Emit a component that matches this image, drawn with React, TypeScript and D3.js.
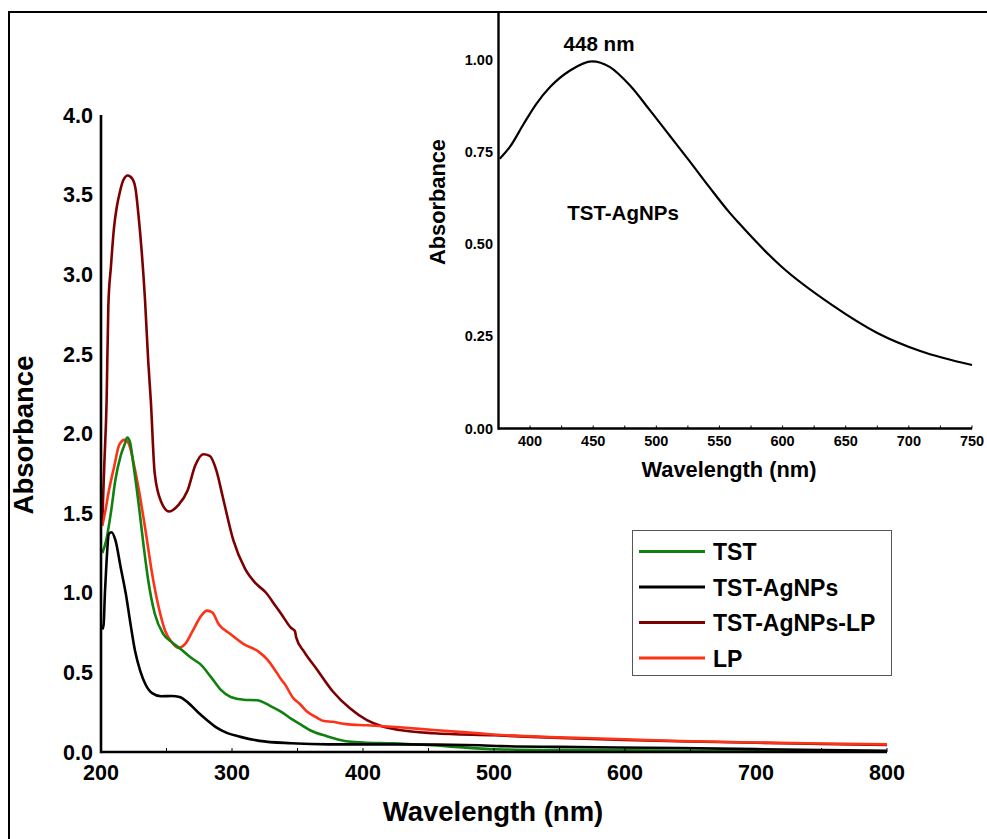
import React from 'react';
import * as d3 from 'd3';

// main chart: UV-vis spectra, wavelength (nm) vs absorbance
const tstNm = [201, 204, 207.5, 211, 215, 218, 220, 222, 225, 229, 232.6, 236, 241, 247.6, 254, 261, 269, 276, 284, 291.5, 299, 309, 319, 329, 337, 345, 352, 360, 372, 387, 400, 423, 449, 487, 502, 550, 600, 700, 800];
const tstAbs = [1.25, 1.33, 1.5, 1.71, 1.86, 1.93, 1.975, 1.95, 1.79, 1.54, 1.29, 1.08, 0.87, 0.74, 0.69, 0.645, 0.59, 0.55, 0.47, 0.39, 0.345, 0.328, 0.325, 0.29, 0.255, 0.21, 0.175, 0.135, 0.1, 0.068, 0.06, 0.055, 0.044, 0.023, 0.017, 0.012, 0.01, 0.007, 0.005];

const agNm = [201, 202, 203, 204, 206, 208, 211, 215, 219, 222.6, 226, 230, 234, 239, 246, 254, 260, 266.4, 274, 281, 288, 296, 306.5, 321, 345, 374, 423, 489, 505, 550, 642, 700, 750, 800];
const agAbs = [0.77, 0.8, 1.0, 1.16, 1.37, 1.38, 1.33, 1.16, 0.99, 0.8, 0.634, 0.508, 0.424, 0.37, 0.35, 0.352, 0.345, 0.31, 0.25, 0.2, 0.155, 0.12, 0.095, 0.07, 0.055, 0.048, 0.048, 0.042, 0.037, 0.032, 0.025, 0.018, 0.012, 0.008];

const agLpNm = [201, 202.5, 204.3, 205.6, 207.6, 209.9, 212, 214.5, 217, 220.4, 223.9, 226.5, 228.5, 231, 233.6, 236, 238, 241, 246, 252, 259, 266, 272, 278, 283, 288, 293, 301, 310, 318, 326, 333, 339, 345, 348, 349, 355, 364.7, 377, 390, 403, 415, 428, 454, 500, 550, 600, 650, 700, 750, 800];
const agLpAbs = [1.45, 1.8, 2.21, 2.8, 3.05, 3.29, 3.42, 3.52, 3.59, 3.62, 3.6, 3.53, 3.38, 3.15, 2.84, 2.46, 2.21, 1.75, 1.57, 1.51, 1.55, 1.64, 1.8, 1.87, 1.86, 1.77, 1.6, 1.33, 1.15, 1.06, 1.0, 0.92, 0.85, 0.78, 0.76, 0.72, 0.63, 0.52, 0.38, 0.274, 0.2, 0.16, 0.138, 0.118, 0.105, 0.088, 0.075, 0.066, 0.058, 0.05, 0.045];

const lpNm = [201, 203, 206, 210, 214, 218, 221, 225, 229, 234, 239, 244, 249, 254, 259, 264, 270, 276, 281, 285, 290, 299, 309, 320, 327, 334, 338, 340, 346.6, 352, 357, 365, 370, 377, 387, 403, 428, 454, 489, 505, 550, 600, 642, 700, 750, 800];
const lpAbs = [1.42, 1.5, 1.64, 1.79, 1.93, 1.96, 1.94, 1.81, 1.64, 1.39, 1.12, 0.91, 0.76, 0.69, 0.655, 0.676, 0.76, 0.85, 0.888, 0.876, 0.8, 0.74, 0.678, 0.632, 0.58, 0.5, 0.45, 0.43, 0.34, 0.3, 0.256, 0.215, 0.195, 0.19, 0.175, 0.168, 0.155, 0.138, 0.117, 0.107, 0.092, 0.08, 0.069, 0.06, 0.053, 0.048];

// inset: TST-AgNPs visible band
const insetNm = [376, 384, 395, 405, 416, 432, 449, 463, 479, 495, 510.5, 526, 542, 558, 565, 599, 639, 675, 709, 750];
const insetAbs = [0.731, 0.763, 0.826, 0.88, 0.926, 0.971, 0.995, 0.98, 0.93, 0.862, 0.794, 0.726, 0.654, 0.585, 0.558, 0.439, 0.335, 0.259, 0.21, 0.172];

const mainXTicks = [200, 300, 400, 500, 600, 700, 800];
const mainYTicks = [0, 0.5, 1, 1.5, 2, 2.5, 3, 3.5, 4];
const insetXTicks = [400, 450, 500, 550, 600, 650, 700, 750];
const insetYTicks = [0, 0.25, 0.5, 0.75, 1];

const seriesNames = ['TST', 'TST-AgNPs', 'TST-AgNPs-LP', 'LP'];
const seriesColors = ['#0f810f', '#000000', '#7d0000', '#fd3216'];

const FONT = '"Liberation Sans", Arial, sans-serif';

const App = () => {
  const x = d3.scaleLinear().domain([200, 800]).range([101, 887]);
  const y = d3.scaleLinear().domain([0, 4]).range([752, 115]);

  const ix = d3.scaleLinear().domain([375, 750]).range([498.5, 972]);
  const iy = d3.scaleLinear().domain([0, 1]).range([428.5, 59.5]);

  const mainData = [
    tstNm.map((n, i) => [n, tstAbs[i]]),
    agNm.map((n, i) => [n, agAbs[i]]),
    agLpNm.map((n, i) => [n, agLpAbs[i]]),
    lpNm.map((n, i) => [n, lpAbs[i]]),
  ];
  const line = d3.line<number[]>()
    .x((d) => x(d[0]))
    .y((d) => y(d[1]))
    .curve(d3.curveMonotoneX);

  const insetLine = d3.line<number[]>()
    .x((d) => ix(d[0]))
    .y((d) => iy(d[1]))
    .curve(d3.curveMonotoneX);
  const insetData = insetNm.map((n, i) => [n, insetAbs[i]]);

  const minorX = d3.range(200, 801, 50);
  const minorIX = d3.range(400, 751, 25);

  const drawOrder = [2, 3, 0, 1];

  return (
    <svg width={987} height={839} style={{ position: 'absolute', left: 0, top: 0 }}
      fontFamily={FONT} fontWeight="bold">
      <rect x={0} y={0} width={987} height={839} fill="#fff" />
      <rect x={9} y={12} width={1000} height={860} fill="none" stroke="#000" strokeWidth={2} />

      {/* main lines */}
      {drawOrder.map((k) => (
        <path key={k} d={line(mainData[k] as any) || ''} fill="none"
          stroke={seriesColors[k]} strokeWidth={2.6} strokeLinejoin="round" />
      ))}

      {/* main axes */}
      <line x1={x(200)} x2={x(800)} y1={y(0)} y2={y(0)} stroke="#000" strokeWidth={2.6} />
      <line x1={x(200)} x2={x(200)} y1={y(4)} y2={y(0) + 1.3} stroke="#000" strokeWidth={2.6} />
      {minorX.map((t) => (
        <line key={t} x1={x(t)} x2={x(t)} y1={y(0)} y2={y(0) - 4} stroke="#000" strokeWidth={1} />
      ))}
      {mainXTicks.map((t) => (
        <text key={t} x={x(t)} y={780} textAnchor="middle" fontSize={21.5}>{t}</text>
      ))}
      {mainYTicks.map((t) => (
        <text key={t} x={93} y={y(t) + 7.7} textAnchor="end" fontSize={21.5}>{t.toFixed(1)}</text>
      ))}
      <text x={493} y={821} textAnchor="middle" fontSize={27.5}>Wavelength (nm)</text>
      <text transform="translate(33,435) rotate(-90)" textAnchor="middle" fontSize={27.5}>Absorbance</text>

      {/* legend */}
      <rect x={632.5} y={530.5} width={259} height={145} fill="#fff" stroke="#555" strokeWidth={1} />
      {seriesNames.map((name, i) => (
        <g key={name}>
          <line x1={639} x2={705} y1={551.5 + i * 35.5} y2={551.5 + i * 35.5}
            stroke={seriesColors[i]} strokeWidth={3} />
          <text x={713} y={560 + i * 35.5} fontSize={23}>{name}</text>
        </g>
      ))}

      {/* inset */}
      <path d={insetLine(insetData as any) || ''} fill="none" stroke="#000" strokeWidth={2.2} />
      <line x1={ix(375)} x2={ix(750)} y1={iy(0)} y2={iy(0)} stroke="#000" strokeWidth={2.4} />
      <line x1={ix(375)} x2={ix(375)} y1={12} y2={iy(0) + 1.2} stroke="#000" strokeWidth={2.4} />
      {minorIX.map((t) => (
        <line key={t} x1={ix(t)} x2={ix(t)} y1={iy(0)} y2={iy(0) - 3} stroke="#000" strokeWidth={1} />
      ))}
      {insetXTicks.map((t) => (
        <text key={t} x={ix(t)} y={446} textAnchor="middle" fontSize={14.5}>{t}</text>
      ))}
      {insetYTicks.map((t) => (
        <text key={t} x={493} y={iy(t) + 5} textAnchor="end" fontSize={14.5}>{t.toFixed(2)}</text>
      ))}
      <text x={729} y={476.5} textAnchor="middle" fontSize={21.8}>Wavelength (nm)</text>
      <text transform="translate(445,202) rotate(-90)" textAnchor="middle" fontSize={21.8}>Absorbance</text>
      <text x={599} y={51} textAnchor="middle" fontSize={20.6}>448 nm</text>
      <text x={623} y={220} textAnchor="middle" fontSize={20.5}>TST-AgNPs</text>
    </svg>
  );
};

export default App;
